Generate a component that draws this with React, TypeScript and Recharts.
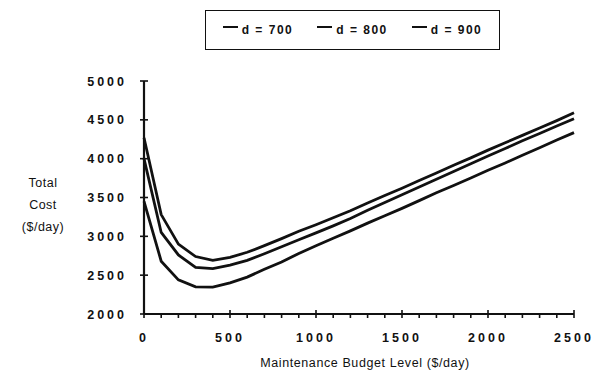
import { LineChart, Line, XAxis, YAxis, Legend } from 'recharts'

// Total cost vs maintenance budget, three d values
const budget = [
  0, 100, 200, 300, 400, 500, 600, 700, 800, 900, 1000, 1100, 1200,
  1300, 1400, 1500, 1600, 1700, 1800, 1900, 2000, 2100, 2200, 2300, 2400, 2500,
]
const costD700 = [
  3450, 2680, 2440, 2350, 2345, 2400, 2475, 2575, 2670, 2780, 2880, 2975, 3070,
  3170, 3265, 3360, 3460, 3560, 3655, 3750, 3850, 3945, 4045, 4140, 4240, 4335,
]
const costD800 = [
  4000, 3050, 2760, 2600, 2585, 2630, 2690, 2775, 2865, 2955, 3045, 3135, 3230,
  3335, 3435, 3535, 3635, 3735, 3835, 3935, 4035, 4130, 4230, 4325, 4420, 4515,
]
const costD900 = [
  4270, 3280, 2900, 2740, 2690, 2730, 2795, 2880, 2970, 3065, 3150, 3240, 3330,
  3430, 3525, 3620, 3720, 3815, 3915, 4010, 4110, 4205, 4300, 4395, 4490, 4590,
]
const seriesNames = ['d = 700', 'd = 800', 'd = 900']
const xTicks = [
  0, 100, 200, 300, 400, 500, 600, 700, 800, 900, 1000, 1100, 1200,
  1300, 1400, 1500, 1600, 1700, 1800, 1900, 2000, 2100, 2200, 2300, 2400, 2500,
]
const xLabelTicks = [0, 500, 1000, 1500, 2000, 2500]
const yTicks = [2000, 2500, 3000, 3500, 4000, 4500, 5000]
const yTitle = ['Total', 'Cost', '($/day)']
const xTitle = 'Maintenance Budget Level ($/day)'

const data = budget.map((b, i) => ({
  budget: b,
  d700: costD700[i],
  d800: costD800[i],
  d900: costD900[i],
}))

const INK = '#111'
const FONT = '"Liberation Sans", Arial, sans-serif'

// x ticks: majors cross the axis and get a label, minors hang below
function XTick({ x, y, payload }: any) {
  const major = xLabelTicks.includes(payload.value)
  return (
    <g>
      <line x1={x} x2={x} y1={major ? y - 4 : y} y2={y + 4} stroke={INK} strokeWidth={1.6} />
      {major && (
        <text
          x={x}
          y={y + 28}
          textAnchor="middle"
          fill={INK}
          fontFamily={FONT}
          fontWeight={700}
          fontSize={12.5}
          letterSpacing={3}
        >
          {payload.value}
        </text>
      )}
    </g>
  )
}

function YTick({ x, y, payload }: any) {
  return (
    <g>
      <line x1={x - 4} x2={x + 4} y1={y} y2={y} stroke={INK} strokeWidth={1.6} />
      <text
        x={x - 17}
        y={y}
        dy="0.36em"
        textAnchor="end"
        fill={INK}
        fontFamily={FONT}
        fontWeight={700}
        fontSize={12.5}
        letterSpacing={3}
      >
        {payload.value}
      </text>
    </g>
  )
}

function LegendBox({ payload }: any) {
  return (
    <div
      style={{
        boxSizing: 'border-box',
        height: 40,
        border: `1.6px solid ${INK}`,
        display: 'flex',
        alignItems: 'center',
        justifyContent: 'center',
        gap: 24,
        fontFamily: FONT,
        fontWeight: 700,
        fontSize: 12,
        letterSpacing: 1.5,
        color: INK,
      }}
    >
      {(payload || []).map((p: any) => (
        <span key={p.value} style={{ whiteSpace: 'pre', display: 'flex', alignItems: 'center' }}>
          <span
            style={{
              display: 'inline-block',
              width: 15,
              borderTop: `2.5px solid ${INK}`,
              marginRight: 4,
              position: 'relative',
              top: -3,
            }}
          />
          {p.value}
        </span>
      ))}
    </div>
  )
}

export default function App() {
  return (
    <div style={{ position: 'absolute', left: 0, top: 0, width: 610, height: 382, background: '#fff' }}>
      <LineChart width={610} height={382} data={data} margin={{ top: 81, right: 36, left: 0, bottom: 0 }}>
        <XAxis
          dataKey="budget"
          type="number"
          domain={[0, 2500]}
          ticks={xTicks}
          interval={0}
          height={68}
          tickSize={0}
          tickMargin={0}
          tickLine={false}
          tick={<XTick />}
          axisLine={{ stroke: INK, strokeWidth: 2 }}
          label={{
            value: xTitle,
            position: 'insideBottom',
            offset: 15,
            dx: 6,
            fill: INK,
            fontFamily: FONT,
            fontSize: 12.5,
            letterSpacing: 0.6,
          }}
        />
        <YAxis
          type="number"
          domain={[2000, 5000]}
          ticks={yTicks}
          interval={0}
          width={144}
          tickSize={0}
          tickMargin={0}
          tickLine={false}
          tick={<YTick />}
          axisLine={{ stroke: INK, strokeWidth: 2.2 }}
        />
        <Legend
          layout="horizontal"
          verticalAlign="middle"
          align="center"
          content={<LegendBox />}
          wrapperStyle={{ top: 10, left: 205, width: 295, height: 40 }}
        />
        <Line type="linear" dataKey="d700" name={seriesNames[0]} stroke={INK} strokeWidth={2.8} dot={false} isAnimationActive={false} />
        <Line type="linear" dataKey="d800" name={seriesNames[1]} stroke={INK} strokeWidth={2.8} dot={false} isAnimationActive={false} />
        <Line type="linear" dataKey="d900" name={seriesNames[2]} stroke={INK} strokeWidth={2.8} dot={false} isAnimationActive={false} />
      </LineChart>

      {/* y axis title, three stacked lines */}
      <div
        style={{
          position: 'absolute',
          left: 13,
          top: 172,
          width: 60,
          textAlign: 'center',
          fontFamily: FONT,
          fontSize: 12.5,
          lineHeight: '22px',
          color: INK,
          letterSpacing: 0.5,
        }}
      >
        {yTitle.map((t) => (
          <div key={t}>{t}</div>
        ))}
      </div>
    </div>
  )
}
